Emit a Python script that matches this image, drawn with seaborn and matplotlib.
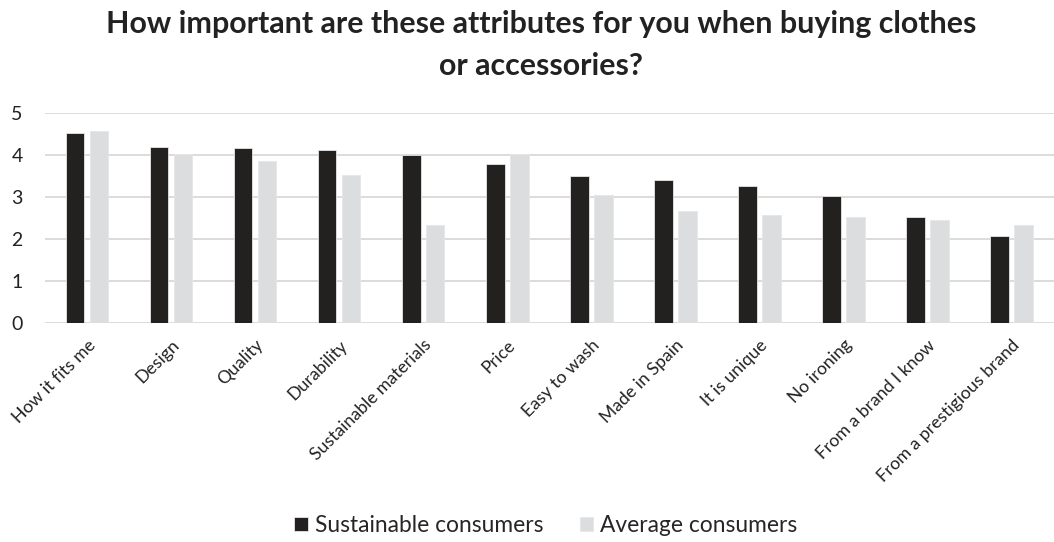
import pandas as pd
import matplotlib.pyplot as plt
import seaborn as sns

# Values
attributes = ['How it fits me', 'Design', 'Quality', 'Durability', 'Sustainable materials',
              'Price', 'Easy to wash', 'Made in Spain', 'It is unique', 'No ironing',
              'From a brand I know', 'From a prestigious brand']
sustainable = [4.52, 4.19, 4.17, 4.12, 4.00, 3.80, 3.50, 3.42, 3.26, 3.04, 2.52, 2.07]
average = [4.57, 4.04, 3.86, 3.52, 2.33, 4.04, 3.06, 2.68, 2.57, 2.53, 2.45, 2.33]
groups = ['Sustainable consumers', 'Average consumers']
colors = ['#231f20', '#dcdddf']

df = pd.DataFrame({
    'attribute': attributes * 2,
    'score': sustainable + average,
    'group': [groups[0]] * len(attributes) + [groups[1]] * len(attributes),
})

sns.set_theme(style='white')
plt.rcParams['font.family'] = ['Lato', 'DejaVu Sans']

fig = plt.figure(figsize=(10.54, 5.42), dpi=100)
ax = fig.add_axes([0.0427, 0.404, 0.957, 0.387])

sns.barplot(data=df, x='attribute', y='score', hue='group', order=attributes,
            hue_order=groups, palette=colors, width=0.57, gap=0.23,
            edgecolor='#e6e6e6', linewidth=0.6, ax=ax, zorder=3)

ax.set_xlim(-0.5, len(attributes) - 0.5)
ax.set_ylim(0, 5)
ax.set_yticks(range(6))
ax.yaxis.grid(True, color='#d9d9d9', linewidth=1.3, zorder=0)
ax.set_axisbelow(True)
for s in ax.spines.values():
    s.set_visible(False)
ax.set_xlabel('')
ax.set_ylabel('')
ax.tick_params(axis='y', labelsize=14, pad=16, length=0)
ax.tick_params(axis='x', labelsize=12.7, length=0, pad=10)
plt.setp(ax.get_xticklabels(), rotation=45, ha='right', rotation_mode='anchor', color='#222222')
plt.setp(ax.get_yticklabels(), color='#222222')

fig.suptitle('How important are these attributes for you when buying clothes\nor accessories?',
             x=0.513, y=0.982, fontsize=21.9, fontweight='bold', color='#222222',
             linespacing=1.6)

ax.legend(loc='center', bbox_to_anchor=(0.518, 0.03), bbox_transform=fig.transFigure,
          ncol=2, frameon=False, fontsize=16.4, handlelength=0.6, handleheight=0.6,
          handletextpad=0.3, columnspacing=1.6)

fig.savefig('out.png', dpi=100)
